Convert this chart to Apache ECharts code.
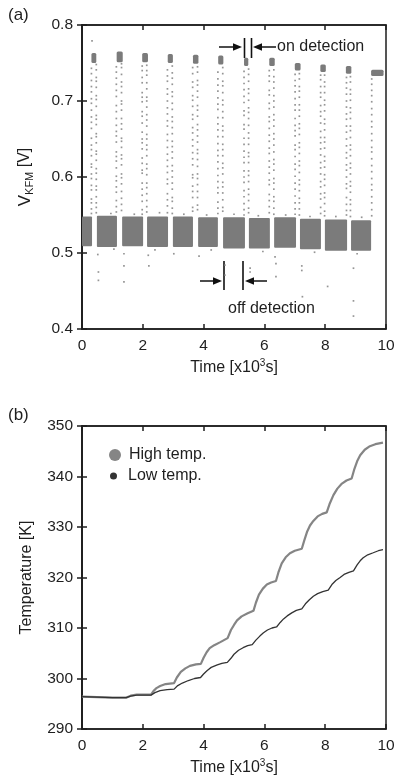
<!DOCTYPE html>
<html><head><meta charset="utf-8">
<script src="https://cdn.jsdelivr.net/npm/echarts@6/dist/echarts.min.js"></script>
<style>html,body{margin:0;padding:0;background:#fff}#c{width:394px;height:776px}</style>
</head><body><div id="c"></div>
<script>
// ---------- Panel (a): KFM voltage ----------
const timeTicks = [0, 2, 4, 6, 8, 10];
const voltTicks = [0.4, 0.5, 0.6, 0.7, 0.8];
// "off" plateaus (dense low band): start, end [x10^3 s], band low/high [V]
const offStart = [0, 0.49, 1.32, 2.14, 2.99, 3.82, 4.64, 5.49, 6.32, 7.17, 7.99, 8.85];
const offEnd   = [0.33, 1.15, 2.01, 2.83, 3.65, 4.47, 5.36, 6.18, 7.04, 7.86, 8.72, 9.51];
const offLow   = [0.509, 0.508, 0.509, 0.508, 0.508, 0.508, 0.506, 0.506, 0.507, 0.505, 0.503, 0.503];
const offHigh  = [0.548, 0.549, 0.548, 0.548, 0.548, 0.547, 0.547, 0.546, 0.547, 0.545, 0.544, 0.543];
// "on" plateaus (dense high clusters)
const onStart = [0.31, 1.14, 1.98, 2.82, 3.65, 4.48, 5.33, 6.16, 7.00, 7.84, 8.68, 9.51];
const onEnd   = [0.47, 1.34, 2.17, 2.99, 3.83, 4.65, 5.47, 6.34, 7.19, 8.02, 8.86, 9.92];
const onLow   = [0.750, 0.751, 0.751, 0.750, 0.749, 0.748, 0.746, 0.746, 0.740, 0.738, 0.736, 0.733];
const onHigh  = [0.763, 0.765, 0.763, 0.762, 0.761, 0.760, 0.757, 0.757, 0.750, 0.748, 0.746, 0.741];
// transition dots (mV) on the rising edges and falling edges
const riseT = [0.31, 1.13, 1.98, 2.81, 3.64, 4.47, 5.33, 6.16, 7.01, 7.85, 8.70, 9.53];
const riseMV = [
  [552,558,566,571,583,589,598,604,613,617,628,636,642,651,664,672,679,688,697,703,712,719,727,736,743],
  [554,561,569,580,587,595,601,612,621,627,633,646,654,660,668,677,686,694,706,714,722,730,738,745],
  [551,557,568,576,584,592,605,609,618,625,637,645,650,659,671,680,686,699,705,711,724,731,740,746],
  [553,562,570,578,591,597,606,614,622,630,639,648,656,667,674,683,691,700,709,716,726,733,741],
  [555,560,573,581,588,599,603,616,624,632,641,649,658,665,676,682,693,701,707,718,725,736,744],
  [552,559,567,579,586,594,602,611,620,628,635,644,653,662,670,678,689,696,704,713,721,729,738],
  [550,557,565,574,582,593,600,608,619,626,634,643,651,663,669,681,687,698,706,715,723,731,739],
  [553,561,569,577,590,596,605,613,621,631,638,647,655,664,673,679,690,697,708,714,726,733,740],
  [551,558,566,575,584,592,601,610,617,627,636,642,654,661,668,677,688,695,703,712,720,727,735],
  [552,560,571,578,587,594,604,612,619,629,637,645,652,660,671,680,686,694,705,711,719,728,734],
  [550,556,564,573,585,591,600,609,616,625,632,641,650,659,667,676,683,692,700,709,717,724,731],
  [549,557,566,574,583,590,598,607,615,624,633,639,648,657,666,673,682,690,699,707,714,722,729]
];
const fallT = [0.47, 1.30, 2.13, 2.97, 3.80, 4.63, 5.48, 6.31, 7.15, 7.98, 8.83];
const fallMV = [
  [748,741,731,726,718,707,702,693,681,676,669,657,653,645,634,630,622,611,605,597,588,583,574,566,560,553],
  [749,744,735,725,719,711,700,696,688,677,670,663,651,647,639,629,624,616,604,599,591,581,572,564,556],
  [747,740,734,724,716,705,700,692,682,675,667,656,650,642,636,628,617,611,603,592,586,578,569,561,554],
  [746,737,730,722,712,706,697,689,679,673,665,657,647,640,633,625,615,608,600,592,584,573,568,559,552],
  [745,738,727,721,713,705,694,688,680,669,662,654,646,636,631,623,614,604,598,590,581,573,563,557],
  [744,736,726,720,711,701,695,686,678,667,661,653,643,636,628,618,612,604,593,587,579,570,560,555],
  [742,735,726,716,710,701,691,685,677,668,658,651,643,632,627,619,608,602,594,584,577,569,559,553],
  [741,732,725,717,707,700,692,682,675,667,657,650,642,633,623,617,609,598,592,584,574,568,559,551],
  [736,729,719,713,705,695,688,680,670,664,656,645,639,631,621,615,606,596,590,582,572,566,558,550],
  [734,725,719,711,701,695,687,676,670,662,652,646,638,627,621,613,603,597,589,579,573,565,555,549],
  [732,725,715,709,701,691,685,677,667,661,652,642,636,628,618,612,604,594,588,580,570,564,556,548]
];
// isolated outliers and ragged-edge points
const outT = [0.33, 0.54, 0.54, 1.38, 1.38, 1.38, 2.20, 4.70, 4.70, 5.53, 5.53, 6.38, 6.38, 7.23, 7.23, 7.25, 8.08, 8.93, 8.93, 8.93, 0.52, 2.18, 3.02, 3.85, 6.35, 0.95, 1.72, 2.55, 3.35, 4.10, 5.00, 5.80, 6.70, 7.50, 8.35, 9.20, 1.05, 2.40, 4.25, 5.95, 7.65, 9.05];
const outV = [0.779, 0.475, 0.464, 0.499, 0.483, 0.462, 0.483, 0.484, 0.471, 0.480, 0.475, 0.486, 0.469, 0.483, 0.477, 0.4425, 0.456, 0.480, 0.437, 0.417, 0.498, 0.497, 0.499, 0.496, 0.495, 0.552, 0.551, 0.553, 0.551, 0.550, 0.551, 0.549, 0.550, 0.548, 0.548, 0.547, 0.505, 0.504, 0.504, 0.502, 0.501, 0.499];

// ---------- Panel (b): temperature ----------
const tempTicks = [290, 300, 310, 320, 330, 340, 350];
const highT = [0,0.5,1.0,1.45,1.6,1.8,2.27,2.35,2.45,2.57,2.75,3.03,3.12,3.25,3.4,3.55,3.75,3.91,4.0,4.1,4.2,4.35,4.55,4.79,4.9,5.0,5.1,5.25,5.45,5.64,5.72,5.82,5.95,6.08,6.22,6.38,6.46,6.57,6.7,6.84,7.0,7.23,7.31,7.4,7.5,7.61,7.75,7.9,8.05,8.14,8.27,8.4,8.55,8.7,8.87,8.95,9.05,9.15,9.3,9.47,9.65,9.9];
const highK = [296.4,296.3,296.2,296.2,296.6,296.8,296.8,297.5,298.1,298.5,298.9,299.1,300.2,301.3,302.0,302.5,302.8,302.9,304.1,305.2,306.0,306.6,307.2,308.0,309.6,310.6,311.5,312.3,312.9,313.4,315.0,316.6,317.8,318.6,319.0,319.3,321.0,322.8,324.0,324.8,325.3,325.7,327.3,329.0,330.3,331.2,332.1,332.6,332.9,334.5,336.3,337.6,338.6,339.2,339.6,341.3,343.0,344.2,345.3,346.0,346.4,346.7];
const lowT = [0,0.5,1.0,1.45,1.6,1.8,2.27,2.4,2.57,2.8,3.03,3.15,3.3,3.5,3.7,3.9,4.0,4.12,4.25,4.45,4.6,4.78,4.9,5.0,5.15,5.3,5.45,5.6,5.72,5.85,5.96,6.1,6.25,6.4,6.52,6.63,6.75,6.9,7.05,7.23,7.35,7.48,7.61,7.75,7.92,8.1,8.22,8.35,8.49,8.62,8.78,8.93,9.05,9.15,9.25,9.4,9.58,9.75,9.9];
const lowK = [296.4,296.3,296.2,296.2,296.5,296.7,296.7,297.2,297.6,297.8,297.9,298.6,299.1,299.6,300.0,300.2,300.9,301.6,302.2,302.7,303.0,303.2,304.0,304.8,305.6,306.1,306.5,306.7,307.6,308.4,309.0,309.6,310.0,310.2,311.1,311.8,312.4,313.0,313.5,313.8,314.8,315.6,316.3,316.8,317.2,317.5,318.6,319.4,320.0,320.6,321.0,321.3,322.5,323.3,323.9,324.5,324.9,325.3,325.5];

// ---------- build ----------
const FONT = 'Liberation Sans';
const INK = '#1e1e1e';
const DOT = '#7b7b7b';

const offRects = offStart.map((s, i) => [s, offEnd[i], offLow[i], offHigh[i]]);
const onRects = onStart.map((s, i) => [s, onEnd[i], onLow[i], onHigh[i]]);
const dots = [];
riseT.forEach((t, i) => riseMV[i].forEach(v => dots.push([t, v / 1000])));
fallT.forEach((t, i) => fallMV[i].forEach(v => dots.push([t, v / 1000])));
outT.forEach((t, i) => dots.push([t, outV[i]]));

function rectRender(radius, fill) {
  return function (params, api) {
    const p0 = api.coord([api.value(0), api.value(3)]);
    const p1 = api.coord([api.value(1), api.value(2)]);
    return {
      type: 'rect',
      shape: { x: p0[0], y: p0[1], width: p1[0] - p0[0], height: p1[1] - p0[1], r: radius },
      style: { fill: fill }
    };
  };
}

const grids = [
  { left: 82, top: 25, width: 304, height: 304 },
  { left: 82, top: 426, width: 304, height: 303 }
];

function xAx(gi, pos) {
  const main = pos === 'bottom';
  return {
    type: 'value', gridIndex: gi, position: pos, min: 0, max: 10, interval: 2,
    name: main ? 'Time [x10{sup|3}s]' : '', nameLocation: 'middle', nameGap: 29,
    nameTextStyle: { fontFamily: FONT, fontSize: 16, color: INK, lineHeight: 20,
      rich: { sup: { fontFamily: FONT, fontSize: 10, color: INK, lineHeight: 10, verticalAlign: 'top' } } },
    axisLine: { show: true, lineStyle: { color: INK, width: 1.5 } },
    axisTick: { show: true, inside: true, length: 5, lineStyle: { color: INK, width: 1.5 } },
    axisLabel: { show: main, fontFamily: FONT, fontSize: 15.5, color: INK, margin: 9 },
    splitLine: { show: false },
    data: timeTicks
  };
}
function yAx(gi, pos, ticks, name, gap, rich, fmt) {
  const main = pos === 'left';
  return {
    type: 'value', gridIndex: gi, position: pos,
    min: ticks[0], max: ticks[ticks.length - 1], interval: ticks[1] - ticks[0],
    name: main ? name : '', nameLocation: 'middle', nameGap: gap,
    nameTextStyle: { fontFamily: FONT, fontSize: 16, color: INK, lineHeight: 20, rich: rich },
    axisLine: { show: true, lineStyle: { color: INK, width: 1.5 } },
    axisTick: { show: true, inside: true, length: 5, lineStyle: { color: INK, width: 1.5 } },
    axisLabel: { show: main, fontFamily: FONT, fontSize: 15.5, color: INK, margin: 9, formatter: fmt },
    splitLine: { show: false }
  };
}

function arrow(xFrom, xTip, y) {
  const d = xTip > xFrom ? 1 : -1, hl = 9, hw = 3.8;
  return [
    { type: 'line', shape: { x1: xFrom, y1: y, x2: xTip - d * hl, y2: y }, style: { stroke: '#111', lineWidth: 1.5 } },
    { type: 'polygon', shape: { points: [[xTip, y], [xTip - d * hl, y - hw], [xTip - d * hl, y + hw]] }, style: { fill: '#111' } }
  ];
}
function vline(x, y1, y2) {
  return { type: 'line', shape: { x1: x, y1: y1, x2: x, y2: y2 }, style: { stroke: '#111', lineWidth: 1.6 } };
}
function label(txt, x, y, size) {
  return { type: 'text', x: x, y: y, style: { text: txt, fontFamily: FONT, fontSize: size, fill: INK, textVerticalAlign: 'middle', textAlign: 'left' } };
}

const graphics = [].concat(
  label('(a)', 8, 15, 17),
  label('(b)', 8, 415, 17),
  arrow(219, 242, 47), arrow(276, 253, 47),
  vline(244.5, 38, 58), vline(251.5, 38, 58),
  label('on detection', 277, 47, 16),
  arrow(200, 222, 281), arrow(267, 245, 281),
  vline(224, 261, 290), vline(243, 261, 290),
  label('off detection', 228, 309, 16)
);

const chart = echarts.init(document.getElementById('c'), null, { renderer: 'canvas' });
chart.setOption({
  backgroundColor: '#fff',
  animation: false,
  grid: grids.map(g => Object.assign({ show: true, borderColor: INK, borderWidth: 1.5, containLabel: false, outerBoundsMode: 'none' }, g)),
  xAxis: [xAx(0, 'bottom'), xAx(0, 'top'), xAx(1, 'bottom'), xAx(1, 'top')],
  yAxis: [
    yAx(0, 'left', voltTicks, '{v|V}{s|KFM}{n| [V]}', 47,
      { v: { fontFamily: FONT, fontSize: 17, color: INK, lineHeight: 20 },
        s: { fontFamily: FONT, fontSize: 11, color: INK, lineHeight: 13, verticalAlign: 'bottom' },
        n: { fontFamily: FONT, fontSize: 16, color: INK, lineHeight: 20 } }, v => v.toFixed(1)),
    yAx(0, 'right', voltTicks, '', 0, {}, v => v.toFixed(1)),
    yAx(1, 'left', tempTicks, 'Temperature [K]', 42, {}, v => String(v)),
    yAx(1, 'right', tempTicks, '', 0, {}, v => String(v))
  ],
  legend: [
    { data: ['High temp.'], left: 104, top: 442, icon: 'circle', itemWidth: 12, itemHeight: 12,
      textStyle: { fontFamily: FONT, fontSize: 16, color: INK, padding: [0, 0, 0, 3] }, selectedMode: false },
    { data: ['Low temp.'], left: 105, top: 463, icon: 'circle', itemWidth: 7, itemHeight: 7,
      textStyle: { fontFamily: FONT, fontSize: 16, color: INK, padding: [0, 0, 0, 6] }, selectedMode: false }
  ],
  graphic: { elements: graphics },
  series: [
    { type: 'custom', name: 'off', xAxisIndex: 0, yAxisIndex: 0, renderItem: rectRender(1, DOT),
      encode: { x: [0, 1], y: [2, 3] }, data: offRects, silent: true },
    { type: 'custom', name: 'on', xAxisIndex: 0, yAxisIndex: 0, renderItem: rectRender(1.5, DOT),
      encode: { x: [0, 1], y: [2, 3] }, data: onRects, silent: true },
    { type: 'scatter', name: 'dots', xAxisIndex: 0, yAxisIndex: 0, symbol: 'rect', symbolSize: 1.7,
      itemStyle: { color: DOT }, data: dots, silent: true },
    { type: 'line', name: 'High temp.', xAxisIndex: 2, yAxisIndex: 2, showSymbol: false,
      lineStyle: { color: '#858585', width: 2.2 }, itemStyle: { color: '#858585' },
      data: highT.map((t, i) => [t, highK[i]]), z: 3 },
    { type: 'line', name: 'Low temp.', xAxisIndex: 2, yAxisIndex: 2, showSymbol: false,
      lineStyle: { color: '#333', width: 1.3 }, itemStyle: { color: '#333' },
      data: lowT.map((t, i) => [t, lowK[i]]), z: 4 }
  ]
});
</script>
</body></html>
